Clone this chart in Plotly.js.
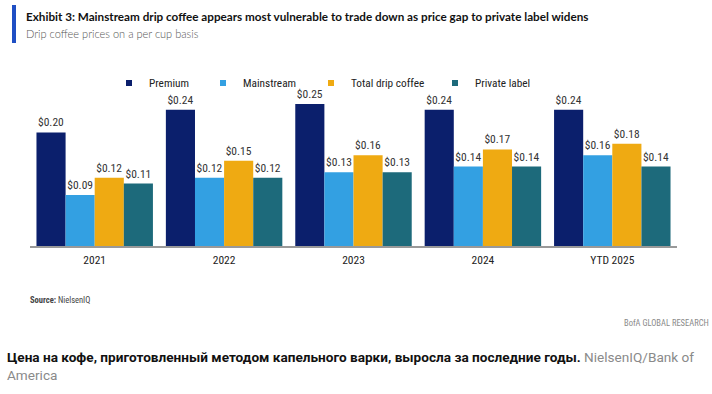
<!DOCTYPE html>
<html><head><meta charset="utf-8">
<script src="https://cdn.plot.ly/plotly-3.0.1.min.js"></script>
<style>html,body{margin:0;padding:0;background:#fff}#chart{width:712px;height:394px}</style>
</head><body><div id="chart"></div>
<script>
const categories = ["2021", "2022", "2023", "2024", "YTD 2025"];
const premium = [0.20, 0.24, 0.25, 0.24, 0.24];
const mainstream = [0.09, 0.12, 0.13, 0.14, 0.16];
const totalDrip = [0.12, 0.15, 0.16, 0.17, 0.18];
const privateLabel = [0.11, 0.12, 0.13, 0.14, 0.14];
const seriesNames = ["Premium", "Mainstream", "Total drip coffee", "Private label"];
const seriesValues = [premium, mainstream, totalDrip, privateLabel];
const colors = ["#0b1f6c", "#33a0e2", "#efaa12", "#1d6a7b"];

const W = 712, H = 394;
const L = 30, R = 677, T = 70, B = 246;
const px = x => (x - L) / (R - L);
const py = y => (B - y) / (B - T);
const cond = "Roboto Condensed, Roboto, sans-serif";
const legendLefts = [109, 203, 311, 435];
const legendIds = ["legend", "legend2", "legend3", "legend4"];

const traces = [];
seriesValues.forEach((vals, i) => {
  traces.push({
    type: "bar", x: categories, y: vals, name: seriesNames[i],
    marker: {color: colors[i]}, showlegend: false,
    text: vals.map(v => "$" + v.toFixed(2)), textposition: "outside",
    textfont: {family: cond, size: 11.5, color: "#333"},
    cliponaxis: false, hoverinfo: "skip"
  });
});
seriesNames.forEach((n, i) => {
  traces.push({
    type: "scatter", mode: "markers", x: [null], y: [null], name: n,
    legend: legendIds[i],
    marker: {symbol: "square", size: 6, color: colors[i]}, showlegend: true
  });
});

const layout = {
  width: W, height: H,
  margin: {l: L, r: W - R, t: T, b: H - B},
  paper_bgcolor: "#fff", plot_bgcolor: "#fff",
  barmode: "group", bargap: 0.1, bargroupgap: 0,
  showlegend: true,
  xaxis: {type: "category", showgrid: false, zeroline: false, showline: true,
    linecolor: "#999999", linewidth: 1.5, ticks: "outside", ticklen: 3, tickcolor: "rgba(0,0,0,0)",
    tickfont: {family: cond, size: 11.5, color: "#222"}},
  yaxis: {range: [0, 0.31], visible: false, showgrid: false, zeroline: false},
  title: {text: "<b>Exhibit 3: Mainstream drip coffee appears most vulnerable to trade down as price gap to private label widens</b>",
    x: 26 / W, xref: "container", xanchor: "left", y: 1 - 17 / H, yref: "container", yanchor: "middle",
    font: {family: "Lato, sans-serif", size: 11.7, color: "#111"}},
  shapes: [{type: "rect", xref: "paper", yref: "paper", x0: px(12), x1: px(16), y0: py(5), y1: py(43),
    fillcolor: "#1f4fc4", line: {width: 0}}],
  annotations: [
    {text: "Drip coffee prices on a per cup basis", xref: "paper", yref: "paper",
     x: px(24), y: py(34), xanchor: "left", yanchor: "middle", showarrow: false,
     font: {family: "Lato, sans-serif", weight: 300, size: 11, color: "#555"}},
    {text: "<b>Source:</b> NielsenIQ", xref: "paper", yref: "paper",
     x: px(28), y: py(300), xanchor: "left", yanchor: "middle", showarrow: false,
     font: {family: cond, size: 8.5, color: "#444"}},
    {text: "BofA GLOBAL RESEARCH", xref: "paper", yref: "paper",
     x: px(711), y: py(323), xanchor: "right", yanchor: "middle", showarrow: false,
     font: {family: cond, size: 8.5, color: "#8a8a8a"}},
    {text: "<b>Цена на кофе, приготовленный методом капельного варки, выросла за последние годы.</b> <span style='color:#8a8a8a'>NielsenIQ/Bank of</span><br><span style='color:#8a8a8a'>America</span>",
     xref: "paper", yref: "paper", x: px(5), y: py(347), xanchor: "left", yanchor: "top",
     align: "left", showarrow: false,
     font: {family: "Roboto, sans-serif", size: 13.6, color: "#111"}}
  ]
};
legendIds.forEach((id, i) => {
  layout[id] = {orientation: "h", x: px(legendLefts[i]), xanchor: "left", y: py(83), yanchor: "middle",
    font: {family: cond, size: 11.3, color: "#222"}, itemwidth: 30, bgcolor: "rgba(0,0,0,0)"};
});
Plotly.newPlot("chart", traces, layout, {displayModeBar: false, staticPlot: true});
</script></body></html>
